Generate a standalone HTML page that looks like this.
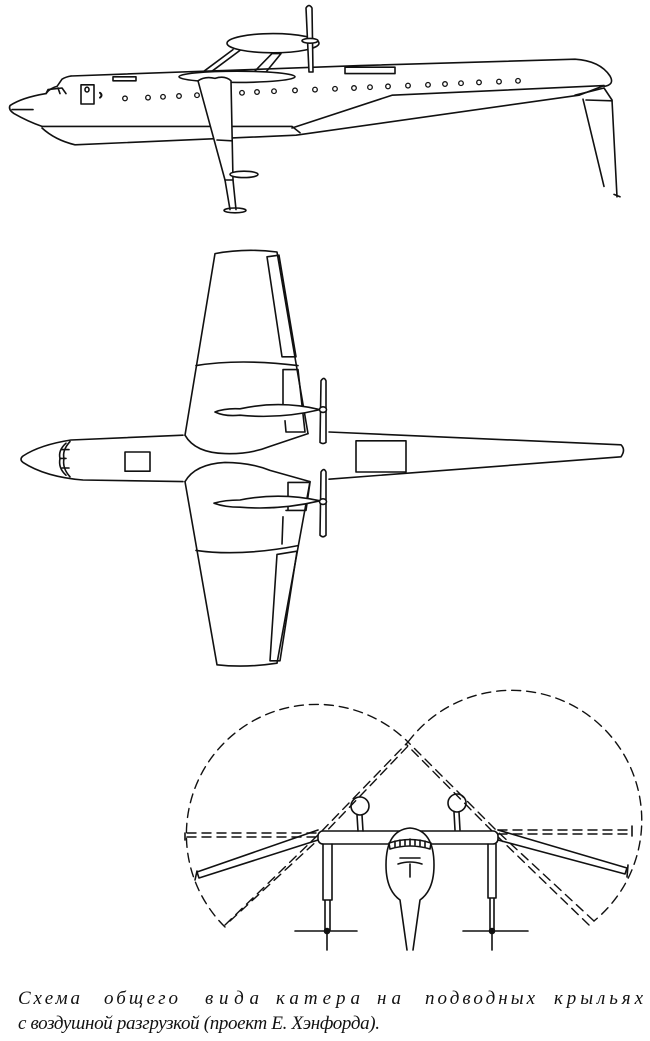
<!DOCTYPE html>
<html><head><meta charset="utf-8"><style>
html,body{margin:0;padding:0;background:#fff;}
svg{display:block;}
svg *{vector-effect:non-scaling-stroke;}
</style></head><body>
<svg width="650" height="1041" viewBox="0 0 650 1041" xmlns="http://www.w3.org/2000/svg" fill="none" stroke="#111" stroke-width="1.6" stroke-linejoin="round" stroke-linecap="round">
<!-- SIDE VIEW -->
<g transform="matrix(1,0,0,0.8,0,0)">
<path d="M71,95 Q66,96 62,99 L57,108 Q50,110 46,117 Q22,122 10,132 Q8,137 14,142 Q28,152 42,158"/>
<path d="M71,95 L360,82 L575,74 Q600,76 610,95 Q615,106 604,108"/>
<path d="M42,158 L292,158 Q296,162 300,166"/>
<path d="M42,160 Q55,175 75,181 L296,169 L579,119 L604,107"/>
<path d="M292,160 L392,119 L604,107"/>
<path d="M46,117 L48,112 L62,110 L66,117"/>
<line x1="58" y1="110" x2="60" y2="117"/>
<line x1="12" y1="137" x2="33" y2="137"/>
<rect x="81" y="106" width="13" height="24"/>
<ellipse cx="87" cy="112" rx="2" ry="3"/>
<path d="M100,116 Q103,119 100,122" stroke-width="2"/>
<rect x="113" y="96" width="23" height="5"/>
<rect x="345" y="84" width="50" height="8"/>
<g stroke-width="1.3">
<ellipse cx="125" cy="123" rx="2.3" ry="2.9"/><ellipse cx="148" cy="122" rx="2.3" ry="2.9"/><ellipse cx="163" cy="121" rx="2.3" ry="2.9"/><ellipse cx="179" cy="120" rx="2.3" ry="2.9"/><ellipse cx="197" cy="119" rx="2.3" ry="2.9"/>
<ellipse cx="242" cy="116" rx="2.3" ry="2.9"/><ellipse cx="257" cy="115" rx="2.3" ry="2.9"/><ellipse cx="274" cy="114" rx="2.3" ry="2.9"/><ellipse cx="295" cy="113" rx="2.3" ry="2.9"/><ellipse cx="315" cy="112" rx="2.3" ry="2.9"/><ellipse cx="335" cy="111" rx="2.3" ry="2.9"/><ellipse cx="354" cy="110" rx="2.3" ry="2.9"/><ellipse cx="370" cy="109" rx="2.3" ry="2.9"/><ellipse cx="388" cy="108" rx="2.3" ry="2.9"/><ellipse cx="408" cy="107" rx="2.3" ry="2.9"/><ellipse cx="428" cy="106" rx="2.3" ry="2.9"/><ellipse cx="445" cy="105" rx="2.3" ry="2.9"/><ellipse cx="461" cy="104" rx="2.3" ry="2.9"/><ellipse cx="479" cy="103" rx="2.3" ry="2.9"/><ellipse cx="499" cy="102" rx="2.3" ry="2.9"/><ellipse cx="518" cy="101" rx="2.3" ry="2.9"/>
</g>
<path d="M204,89 L233,62"/><path d="M212,89 L240,63"/>
<path d="M254,90 L272,67 L281,67 L266,90"/>
<ellipse cx="273" cy="54" rx="46" ry="12" fill="#fff"/>
<path d="M306,10 Q309,4 312,10 L313,90 L309,90 Z" fill="#fff"/>
<ellipse cx="310" cy="51" rx="8" ry="3" fill="#fff"/>
<ellipse cx="237" cy="96" rx="58" ry="7" fill="#fff"/>
<path d="M198,101 Q205,95 215,98 Q225,94 231,101 L233,225 L225,225 Z" fill="#fff"/>
<path d="M217,175 L232,176"/>
<path d="M225,225 L230,262 M233,225 L236,262"/>
<ellipse cx="244" cy="218" rx="14" ry="4" fill="#fff"/>
<ellipse cx="235" cy="263" rx="11" ry="3"/>
<path d="M575,119 L604,110 L612,125 L617,246 M583,124 L604,233"/>
<path d="M586,125 L612,126"/>
<path d="M614,243 L620,246"/>
</g>
<!-- TOP VIEW -->
<g transform="matrix(1,0,0,0.8,0,48)">
<path d="M183,484 L71,490 Q40,496 23,510 Q19,514 23,518 Q45,536 83,540 L183,542"/>
<path d="M329,480 L621,496 Q626,502 621,511 L329,539"/>
<path d="M66,494 Q58,503 60,513 Q58,525 66,534 M70,492 Q62,503 64,513 Q62,525 70,536"/>
<path d="M62,502 L69,502 M60,513 L66,513 M62,525 L69,525"/>
<rect x="125" y="505" width="25" height="24"/>
<rect x="356" y="491" width="50" height="39"/>
<path d="M185,484 L215,257 Q245,250 277,255 L308,482"/>
<path d="M185,484 Q195,506 225,507 Q250,508 270,498 L308,482"/>
<path d="M196,397 Q240,388 298,397"/>
<path d="M267,261 L279,259 L296,386 L282,386 Z"/>
<path d="M283,402 L298,402 L305,480 L286,480 L285,466 M283,402 L283,446"/>
<path d="M215,455 Q225,450 240,451 Q280,440 320,452 Q280,464 240,459 Q225,461 215,455 Z" fill="#fff"/>
<path d="M321,416 Q324,410 326,416 L326,493 Q323,496 320,493 Z" fill="#fff"/>
<circle cx="323" cy="452" r="3.5" fill="#fff"/>
<path d="M185,542 L217,771 Q245,775 277,769 L310,542"/>
<path d="M185,542 Q195,520 225,518 Q250,518 270,528 L310,542"/>
<path d="M196,628 Q240,636 298,622"/>
<path d="M277,633 L297,629 L280,766 L270,766 Z"/>
<path d="M288,543 L310,543 L306,578 L286,578 M288,543 L288,578"/>
<path d="M283,586 L282,620"/>
<path d="M214,569 Q225,565 240,565 Q280,555 320,566 Q280,578 240,574 Q225,574 214,569 Z" fill="#fff"/>
<path d="M321,530 Q324,524 326,530 L326,609 Q323,613 320,609 Z" fill="#fff"/>
<circle cx="323" cy="567" r="3.5" fill="#fff"/>
</g>
<!-- FRONT VIEW -->
<g>
<g stroke-dasharray="9,6" stroke-width="1.4">
<path d="M225,927 A130,130 0 1 1 408,742"/>
<path d="M408,742 A130,130 0 1 1 594,921"/>
<path d="M187,833 L318,833 M187,837 L318,837"/>
<path d="M498,830 L632,830 M498,834 L632,834"/>
<path d="M225,925 L318,835 L408,742 M230,921 L320,838 L410,744"/>
<path d="M594,921 L498,832 L408,742 M589,925 L496,835 L406,744"/>
</g>
<path d="M185,833 L185,840 M632,826 L632,836"/>
<path d="M318,830 L197,872 L199,878 L318,840"/>
<path d="M197,871 L195,880"/>
<path d="M498,830 L627,868 L625,874 L498,840"/>
<path d="M628,865 L627,877"/>
<rect x="318" y="831" width="180" height="13" rx="5" fill="#fff"/>
<circle cx="360" cy="806" r="9"/>
<path d="M357,815 L358,831 M362,815 L363,831"/>
<circle cx="457" cy="803" r="9"/>
<path d="M454,812 L455,830 M459,812 L460,830"/>
<path d="M323,844 L323,900 L325,900 L325,930 M332,844 L332,900 L330,900 L330,930 M323,900 L332,900"/>
<path d="M327,933 L327,950"/>
<circle cx="327" cy="931" r="2.5" fill="#111"/>
<path d="M295,931 L357,931"/>
<path d="M488,844 L488,898 L490,898 L490,930 M496,844 L496,898 L494,898 L494,930 M488,898 L496,898"/>
<path d="M492,933 L492,950"/>
<circle cx="492" cy="931" r="2.5" fill="#111"/>
<path d="M463,931 L528,931"/>
<path d="M400,900 Q386,890 386,865 Q386,830 410,828 Q434,830 434,865 Q434,890 420,900 L413,950 M400,900 L407,950" fill="#fff"/>
<path d="M389,843 Q410,836 431,843 L430,849 Q410,843 390,849 Z"/>
<path d="M395,841 L395,847 M400,840 L400,846 M405,840 L405,845 M410,839 L410,845 M415,840 L415,845 M420,840 L420,846 M425,841 L425,847"/>
<path d="M400,858 L420,858 M398,864 Q410,860 422,864 M410,864 L410,877"/>
</g>
<!-- caption -->
<g fill="#111" stroke="none" font-family="'Liberation Serif','DejaVu Serif',serif" font-style="italic" font-size="19">
<text x="18" y="1004" textLength="62" lengthAdjust="spacing">Схема</text>
<text x="104" y="1004" textLength="74" lengthAdjust="spacing">общего</text>
<text x="205" y="1004" textLength="54" lengthAdjust="spacing">вида</text>
<text x="276" y="1004" textLength="84" lengthAdjust="spacing">катера</text>
<text x="377" y="1004" textLength="24" lengthAdjust="spacing">на</text>
<text x="425" y="1004" textLength="110" lengthAdjust="spacing">подводных</text>
<text x="554" y="1004" textLength="89" lengthAdjust="spacing">крыльях</text>
<text x="18" y="1029" textLength="362" lengthAdjust="spacing">с воздушной разгрузкой (проект Е. Хэнфорда).</text>
</g>
</svg>
</body></html>
